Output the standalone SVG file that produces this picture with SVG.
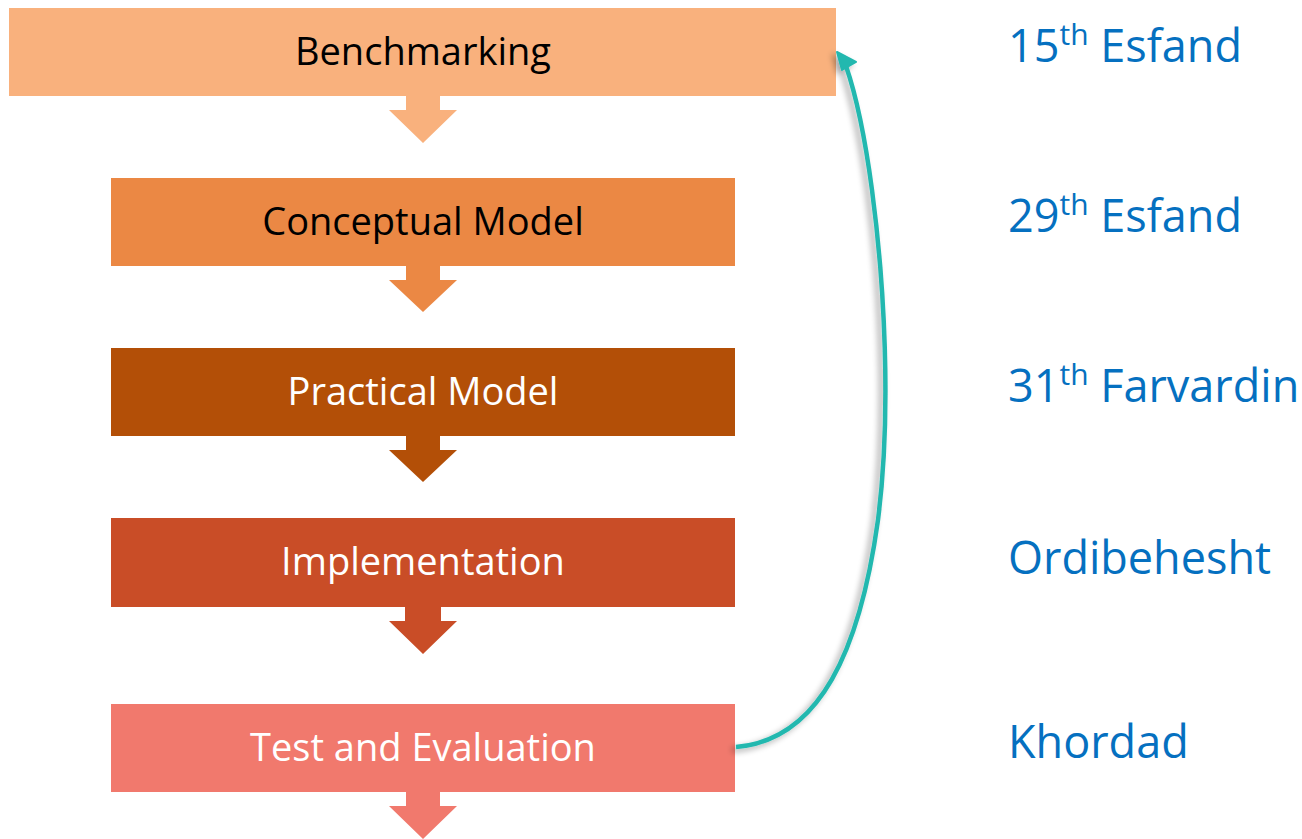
<svg xmlns="http://www.w3.org/2000/svg" width="1302" height="839" viewBox="0 0 1302 839">
<defs>
<style>
.lbl{font-family:"Open Sans","Noto Sans",sans-serif;font-size:38px;text-anchor:middle}
.dark{fill:#000}
.light{fill:#fff}
.date{font-family:"Open Sans","Noto Sans",sans-serif;font-size:45px;fill:#0570C0}
.sup{font-size:30px}
</style>
<filter id="sh" x="-50%" y="-10%" width="200%" height="120%">
<feGaussianBlur in="SourceAlpha" stdDeviation="3"/>
<feOffset dx="-4" dy="3"/>
<feComponentTransfer><feFuncA type="linear" slope="0.35"/></feComponentTransfer>
<feMerge><feMergeNode/><feMergeNode in="SourceGraphic"/></feMerge>
</filter>
</defs>
<rect width="1302" height="839" fill="#fff"/>
<g id="n1">
<rect x="9" y="8" width="827" height="88" fill="#F9B17D"/>
<path d="M406,96 H440 V110 H457 L423,143 L389,110 H406 Z" fill="#F9B17D"/>
<text class="lbl dark" x="423" y="65">Benchmarking</text>
</g>
<g id="n2">
<rect x="111" y="178" width="624" height="88" fill="#EB8844"/>
<path d="M406,266 H440 V280 H457 L423,312 L389,280 H406 Z" fill="#EB8844"/>
<text class="lbl dark" x="423" y="235">Conceptual Model</text>
</g>
<g id="n3">
<rect x="111" y="348" width="624" height="88" fill="#B34F07"/>
<path d="M406,436 H440 V450 H457 L423,482 L389,450 H406 Z" fill="#B34F07"/>
<text class="lbl light" x="423" y="405">Practical Model</text>
</g>
<g id="n4">
<rect x="111" y="518" width="624" height="89" fill="#C94D27"/>
<path d="M405,607 H441 V621 H457 L423,654 L389,621 H405 Z" fill="#C94D27"/>
<text class="lbl light" x="423" y="575">Implementation</text>
</g>
<g id="n5">
<rect x="111" y="704" width="624" height="88" fill="#F1796D"/>
<path d="M406,792 H440 V806 H457 L423,839 L389,806 H406 Z" fill="#F1796D"/>
<text class="lbl light" x="423" y="761">Test and Evaluation</text>
</g>
<g id="dates">
<text class="date" x="1008" y="62">15<tspan class="sup" dy="-17">th</tspan><tspan dy="17"> Esfand</tspan></text>
<text class="date" x="1008" y="232">29<tspan class="sup" dy="-17">th</tspan><tspan dy="17"> Esfand</tspan></text>
<text class="date" x="1008" y="402">31<tspan class="sup" dy="-17">th</tspan><tspan dy="17"> Farvardin</tspan></text>
<text class="date" x="1008" y="574">Ordibehesht</text>
<text class="date" x="1008" y="758">Khordad</text>
</g>
<g id="connectors" filter="url(#sh)">
<path d="M736,747 C820,740 860,650 878,520 C892,410 884,280 872,190 C864,130 856,95 846,66" fill="none" stroke="#22B8AF" stroke-width="4.5"/>
<path d="M837,52 L856,62 L842,70 Z" fill="#22B8AF" stroke="#22B8AF" stroke-width="2" stroke-linejoin="round"/>
</g>
</svg>
